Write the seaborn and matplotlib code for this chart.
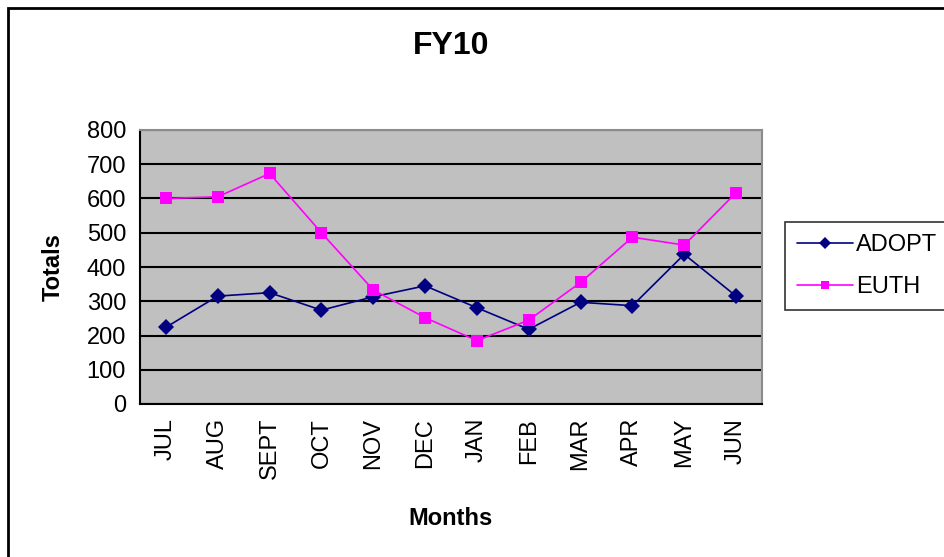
import pandas as pd
import matplotlib.pyplot as plt
import seaborn as sns
from matplotlib.patches import Rectangle
from matplotlib.ticker import FixedLocator

# Dados
meses = ['JUL', 'AUG', 'SEPT', 'OCT', 'NOV', 'DEC', 'JAN', 'FEB', 'MAR', 'APR', 'MAY', 'JUN']
adopt = [224, 315, 325, 274, 313, 345, 281, 218, 297, 287, 437, 315]
euth = [600, 605, 673, 500, 333, 252, 185, 245, 355, 487, 464, 617]

df = pd.DataFrame({'Mes': meses * 2,
                   'Total': adopt + euth,
                   'Serie': ['ADOPT'] * 12 + ['EUTH'] * 12})
df['x'] = list(range(12)) * 2

sns.set_style('white')
plt.rcParams['font.family'] = ['Liberation Sans', 'DejaVu Sans']
plt.rcParams['text.color'] = 'black'
plt.rcParams['axes.labelcolor'] = 'black'
plt.rcParams['xtick.color'] = 'black'
plt.rcParams['ytick.color'] = 'black'

fig = plt.figure(figsize=(9.45, 5.57), dpi=100)
ax = fig.add_axes([140 / 945, 1 - 404 / 557, 622 / 945, 274 / 557])

sns.lineplot(data=df, x='x', y='Total', hue='Serie', style='Serie',
             palette={'ADOPT': '#000080', 'EUTH': '#FF00FF'},
             markers={'ADOPT': 'D', 'EUTH': 's'}, dashes=False,
             markersize=8, linewidth=1.2, markeredgewidth=0, ax=ax)

ax.set_facecolor('#C0C0C0')
ax.set_xlim(-0.5, 11.5)
ax.set_ylim(0, 800)
ax.set_yticks(range(0, 801, 100))
ax.set_xticks(range(12))
ax.set_xticklabels(meses, rotation=90, fontsize=17)
ax.xaxis.set_minor_locator(FixedLocator([i - 0.5 for i in range(13)]))
ax.tick_params(axis='x', which='major', length=0, pad=10)
ax.tick_params(axis='x', which='minor', length=6, width=1.2, direction='out')
ax.tick_params(axis='y', length=6, width=1.2, direction='out', labelsize=17, pad=4)
ax.yaxis.grid(True, color='black', linewidth=1.5)
ax.set_axisbelow(True)

for lado in ['left', 'bottom']:
    ax.spines[lado].set_color('black')
    ax.spines[lado].set_linewidth(1.5)
for lado in ['top', 'right']:
    ax.spines[lado].set_color('#8C8C8C')
    ax.spines[lado].set_linewidth(1.5)

ax.set_title('FY10', fontsize=23, fontweight='bold', pad=55)
ax.set_ylabel('Totals', fontsize=17, fontweight='bold', labelpad=16)
ax.set_xlabel('Months', fontsize=17, fontweight='bold', labelpad=20)

leg = ax.legend(loc='upper left', bbox_to_anchor=(785 / 945, 1 - 222 / 557),
                bbox_transform=fig.transFigure, fontsize=17, frameon=True,
                fancybox=False, edgecolor='black', handlelength=2.4,
                borderaxespad=0, borderpad=0.5, handletextpad=0.1,
                labelspacing=0.85, markerscale=0.8)
leg.get_frame().set_linewidth(1.2)

# Borda externa do gráfico
fig.patches.append(Rectangle((8 / 945, -0.1), 1.2, 1 - 8 / 557 + 0.1,
                             transform=fig.transFigure, fill=False,
                             edgecolor='black', linewidth=2))

fig.savefig('out.png', dpi=100)
